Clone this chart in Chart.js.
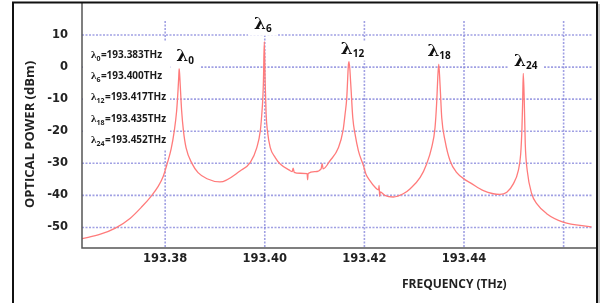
<!DOCTYPE html>
<html>
<head>
<meta charset="utf-8">
<script src="https://cdn.jsdelivr.net/npm/chart.js@4.4.1/dist/chart.umd.min.js"></script>
<style>
  html, body { margin: 0; padding: 0; background: #fff; }
  #wrap { width: 608px; height: 303px; }
</style>
</head>
<body>
<div id="wrap"><canvas id="chart"></canvas></div>
<script>
// spectrum (THz, dBm)
const freqs = [
  193.3633, 193.3670, 193.3700, 193.3730, 193.3754, 193.3770, 193.3786, 193.3796,
  193.3804, 193.3812, 193.3818, 193.3823, 193.38257, 193.38273, 193.38281, 193.38293,
  193.38311, 193.38331, 193.38367, 193.3842, 193.3854, 193.3866, 193.3884, 193.3910,
  193.3951, 193.3971, 193.3984, 193.3991, 193.3994, 193.39961, 193.39973, 193.39990,
  193.40007, 193.40027, 193.40053, 193.4011, 193.4021, 193.4031, 193.4051, 193.4055,
  193.4057, 193.4059, 193.4071, 193.4085, 193.4086, 193.4087, 193.4101, 193.41131,
  193.41151, 193.41171, 193.4131, 193.4148, 193.4157, 193.41612, 193.41646, 193.41679,
  193.41693, 193.41727, 193.41767, 193.41813, 193.4188, 193.4198, 193.4203, 193.4211,
  193.4221, 193.42285, 193.42295, 193.42307, 193.42319, 193.4241, 193.4258, 193.4278,
  193.4292, 193.4312, 193.4325, 193.4335, 193.43418, 193.43453, 193.43473, 193.43493,
  193.43519, 193.43553, 193.4362, 193.4372, 193.4385, 193.4405, 193.4412, 193.4439,
  193.4472, 193.4486, 193.4499, 193.4509, 193.45138, 193.45164, 193.45178, 193.4519,
  193.4521, 193.4523, 193.4527, 193.4536, 193.4546, 193.4566, 193.4599, 193.4656
];
const powers = [
  -53.5, -52.1, -50.2, -47.1, -43.4, -40.6, -37.2, -34.1,
  -30.1, -25.5, -20.2, -13.7, -7.5, -2.9, -0.4, -2.9,
  -8.2, -13.7, -19.9, -25.2, -30.1, -32.9, -34.8, -35.8,
  -32.3, -29.7, -25.1, -19.9, -14.7, -9.6, -4.4, 7.9,
  -4.4, -14.7, -19.9, -25.1, -28.2, -30.2, -32.3, -32.6,
  -31.5, -32.8, -33.1, -33.2, -35.1, -33.2, -32.6, -31.7,
  -30.1, -31.7, -29.2, -25.1, -19.9, -14.7, -9.6, 0.7,
  1.7, -5.5, -15.8, -20.9, -26.1, -30.7, -33.3, -35.4,
  -37.4, -38.3, -36.9, -40.3, -38.9, -40.0, -40.5, -39.5,
  -37.9, -34.4, -30.2, -25.1, -18.9, -10.6, -3.4, 0.9,
  -5.5, -15.8, -23.0, -29.2, -32.8, -35.4, -36.0, -38.5,
  -39.7, -39.0, -36.4, -32.3, -27.1, -18.9, -10.6, -1.9,
  -10.6, -24.0, -32.3, -39.5, -42.6, -45.7, -48.3, -49.8
];
const peakNames = ['0', '6', '12', '18', '24'];
const peakFreqs = [193.383, 193.400, 193.417, 193.435, 193.452];
const xTicks = [193.38, 193.40, 193.42, 193.44, 193.46];
const xTickLabels = ['193.38', '193.40', '193.42', '193.44', ''];
const yTicks = [10, 0, -10, -20, -30, -40, -50];

const points = freqs.map((f, i) => ({ x: f, y: powers[i] }));

// draws λ + subscript (+ optional rest text), returns the width
function lambdaText(ctx, x, y, sub, rest, big, small, draw) {
  ctx.font = big;
  const w1 = ctx.measureText('λ').width;
  ctx.font = small;
  const w2 = ctx.measureText(sub).width;
  let w3 = 0;
  if (rest) { ctx.font = rest.font; w3 = ctx.measureText(rest.text).width; }
  if (draw) {
    ctx.font = big; ctx.fillText('λ', x, y);
    ctx.font = small; ctx.fillText(sub, x + w1, y + 3);
    if (rest) { ctx.font = rest.font; ctx.fillText(rest.text, x + w1 + w2 + 0.5, y); }
  }
  return w1 + w2 + w3;
}

const labelNudge = [[5, 4], [-2, 10], [3, 5], [0, 5], [2, 4]];

const decor = {
  id: 'decor',
  beforeDatasetsDraw(chart) {
    const { ctx, chartArea } = chart;
    const xs = chart.scales.x, ys = chart.scales.y;
    ctx.save();
    // dotted grid
    ctx.strokeStyle = 'rgba(120,120,215,0.7)';
    ctx.lineWidth = 1.6;
    ctx.setLineDash([2, 1.5]);
    ctx.beginPath();
    yTicks.forEach(v => {
      const y = ys.getPixelForValue(v);
      ctx.moveTo(chartArea.left, y); ctx.lineTo(chartArea.right, y);
    });
    ctx.stroke();
    ctx.beginPath();
    xTicks.forEach(v => {
      const x = xs.getPixelForValue(v);
      ctx.moveTo(x, chartArea.top); ctx.lineTo(x, chartArea.bottom);
    });
    ctx.stroke();
    ctx.setLineDash([]);
    // wavelength list box
    ctx.fillStyle = '#fff';
    ctx.fillRect(chartArea.left + 1, chartArea.top + 21, 87, 108);
    ctx.fillStyle = '#1a1a1a';
    ctx.textBaseline = 'alphabetic';
    ctx.textAlign = 'left';
    peakNames.forEach((n, i) => {
      const y = chartArea.top + 37 + i * 21.2;
      lambdaText(ctx, chartArea.left + 9, y, n,
        { text: '=' + peakFreqs[i].toFixed(3) + 'THz', font: 'bold 10px "Open Sans"' },
        'bold 11px "Liberation Serif"', 'bold 7px "Open Sans"', true);
    });
    ctx.restore();
  },
  afterDatasetsDraw(chart) {
    const { ctx } = chart;
    const xs = chart.scales.x, ys = chart.scales.y;
    ctx.save();
    ctx.textBaseline = 'alphabetic';
    ctx.textAlign = 'left';
    peakFreqs.forEach((f, i) => {
      let top = -Infinity;
      freqs.forEach((v, j) => { if (Math.abs(v - f) < 0.001 && powers[j] > top) top = powers[j]; });
      const px = xs.getPixelForValue(f) + labelNudge[i][0];
      const py = ys.getPixelForValue(top) - labelNudge[i][1] - 3;
      const big = 'bold 17px "DejaVu Serif"', small = 'bold 10px "Open Sans"';
      const w = lambdaText(ctx, 0, 0, peakNames[i], null, big, small, false);
      const x0 = px - w / 2;
      ctx.fillStyle = '#fff';
      ctx.fillRect(x0 - 6, py - 12, w + 12, 19);
      ctx.fillStyle = '#111';
      lambdaText(ctx, x0, py, peakNames[i], null, big, small, true);
    });
    ctx.restore();
  },
  afterDraw(chart) {
    const { ctx, chartArea } = chart;
    ctx.save();
    // axis lines
    ctx.strokeStyle = '#555';
    ctx.lineWidth = 1.5;
    ctx.beginPath();
    ctx.moveTo(chartArea.left, 3);
    ctx.lineTo(chartArea.left, chartArea.bottom);
    ctx.lineTo(597, chartArea.bottom);
    ctx.stroke();
    // outer frame
    ctx.strokeStyle = '#111';
    ctx.lineWidth = 2;
    ctx.strokeRect(13, 2.5, 584, 330);
    ctx.strokeStyle = '#999';
    ctx.lineWidth = 1.2;
    ctx.beginPath();
    ctx.moveTo(599, 4); ctx.lineTo(599, 303);
    ctx.stroke();
    // x title
    ctx.fillStyle = '#222';
    ctx.font = 'bold 12px "Open Sans"';
    ctx.textAlign = 'center';
    ctx.textBaseline = 'middle';
    ctx.fillText('FREQUENCY (THz)', chartArea.left + (chartArea.right - chartArea.left) * 0.73, chartArea.bottom + 37);
    ctx.restore();
  }
};

new Chart(document.getElementById('chart'), {
  type: 'line',
  data: {
    datasets: [{
      label: 'Optical power',
      data: points,
      borderColor: '#ff7b7b',
      borderWidth: 1.3,
      pointRadius: 0,
      fill: false,
      cubicInterpolationMode: 'monotone'
    }]
  },
  options: {
    responsive: true,
    maintainAspectRatio: false,
    animation: false,
    devicePixelRatio: 1,
    layout: { padding: { left: 14, right: 16, top: 19, bottom: 0 } },
    plugins: { legend: { display: false }, tooltip: { enabled: false } },
    scales: {
      x: {
        type: 'linear',
        min: 193.3633,
        max: 193.4657,
        afterBuildTicks: s => { s.ticks = xTicks.map(v => ({ value: v })); },
        afterFit: s => { s.height = 55; },
        ticks: {
          autoSkip: false,
          maxRotation: 0,
          padding: 4,
          color: '#222',
          font: { family: 'DejaVu Sans', weight: 'bold', size: 11.5 },
          callback: (v, i) => xTickLabels[i]
        },
        grid: { display: false, drawTicks: false },
        border: { display: false }
      },
      y: {
        min: -56.4,
        max: 14.4,
        afterBuildTicks: s => { s.ticks = yTicks.map(v => ({ value: v })); },
        afterFit: s => { s.width = 68; },
        ticks: {
          padding: 14,
          color: '#222',
          font: { family: 'DejaVu Sans', weight: 'bold', size: 11.5 }
        },
        grid: { display: false, drawTicks: false },
        border: { display: false },
        title: {
          display: true,
          text: 'OPTICAL POWER (dBm)',
          color: '#222',
          padding: { top: 8, bottom: 0 },
          font: { family: 'Open Sans', weight: 'bold', size: 13 }
        }
      }
    }
  },
  plugins: [decor]
});
</script>
</body>
</html>
